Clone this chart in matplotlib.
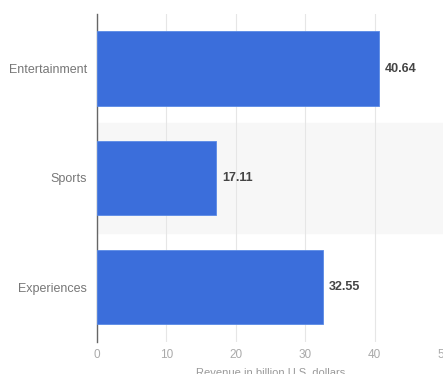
import matplotlib.pyplot as plt

categories = ["Entertainment", "Sports", "Experiences"]
revenue = [40.64, 17.11, 32.55]
x_ticks = [0, 10, 20, 30, 40, 50]

plt.rcParams['font.family'] = ['Liberation Sans', 'DejaVu Sans']

fig = plt.figure(figsize=(4.43, 3.74), dpi=100)
ax = fig.add_axes([0.219, 0.0856, 0.783, 0.877])

ypos = list(range(len(categories)))

# light band behind the middle row
ax.axhspan(0.5, 1.5, color='#f7f7f7', zorder=0)

ax.barh(ypos, revenue, height=0.68, color='#3b6edb', edgecolor='#5a8ae6',
        linewidth=0.6, zorder=3)

for y, v in zip(ypos, revenue):
    ax.annotate(f"{v:.2f}", (v, y), xytext=(4.5, 0), textcoords='offset points',
                va='center', ha='left', fontsize=9, fontweight='bold',
                color='#444444', zorder=4)

ax.set_xlim(0, 50)
ax.set_ylim(2.5, -0.5)
ax.set_yticks(ypos)
ax.set_yticklabels(categories)
ax.set_xticks(x_ticks)

ax.grid(axis='x', color='#e6e6e6', linewidth=0.8, zorder=1)
ax.set_axisbelow(True)

for side in ['top', 'right', 'bottom']:
    ax.spines[side].set_visible(False)
ax.spines['left'].set_color('#666666')
ax.spines['left'].set_linewidth(1.0)

ax.tick_params(axis='y', length=0, pad=7, labelsize=9, labelcolor='#777777')
ax.tick_params(axis='x', length=0, pad=5, labelsize=8.5, labelcolor='#aaaaaa')

ax.set_xlabel("Revenue in billion U.S. dollars", fontsize=8, color='#999999',
              labelpad=5)

fig.savefig("out.png", dpi=100)
